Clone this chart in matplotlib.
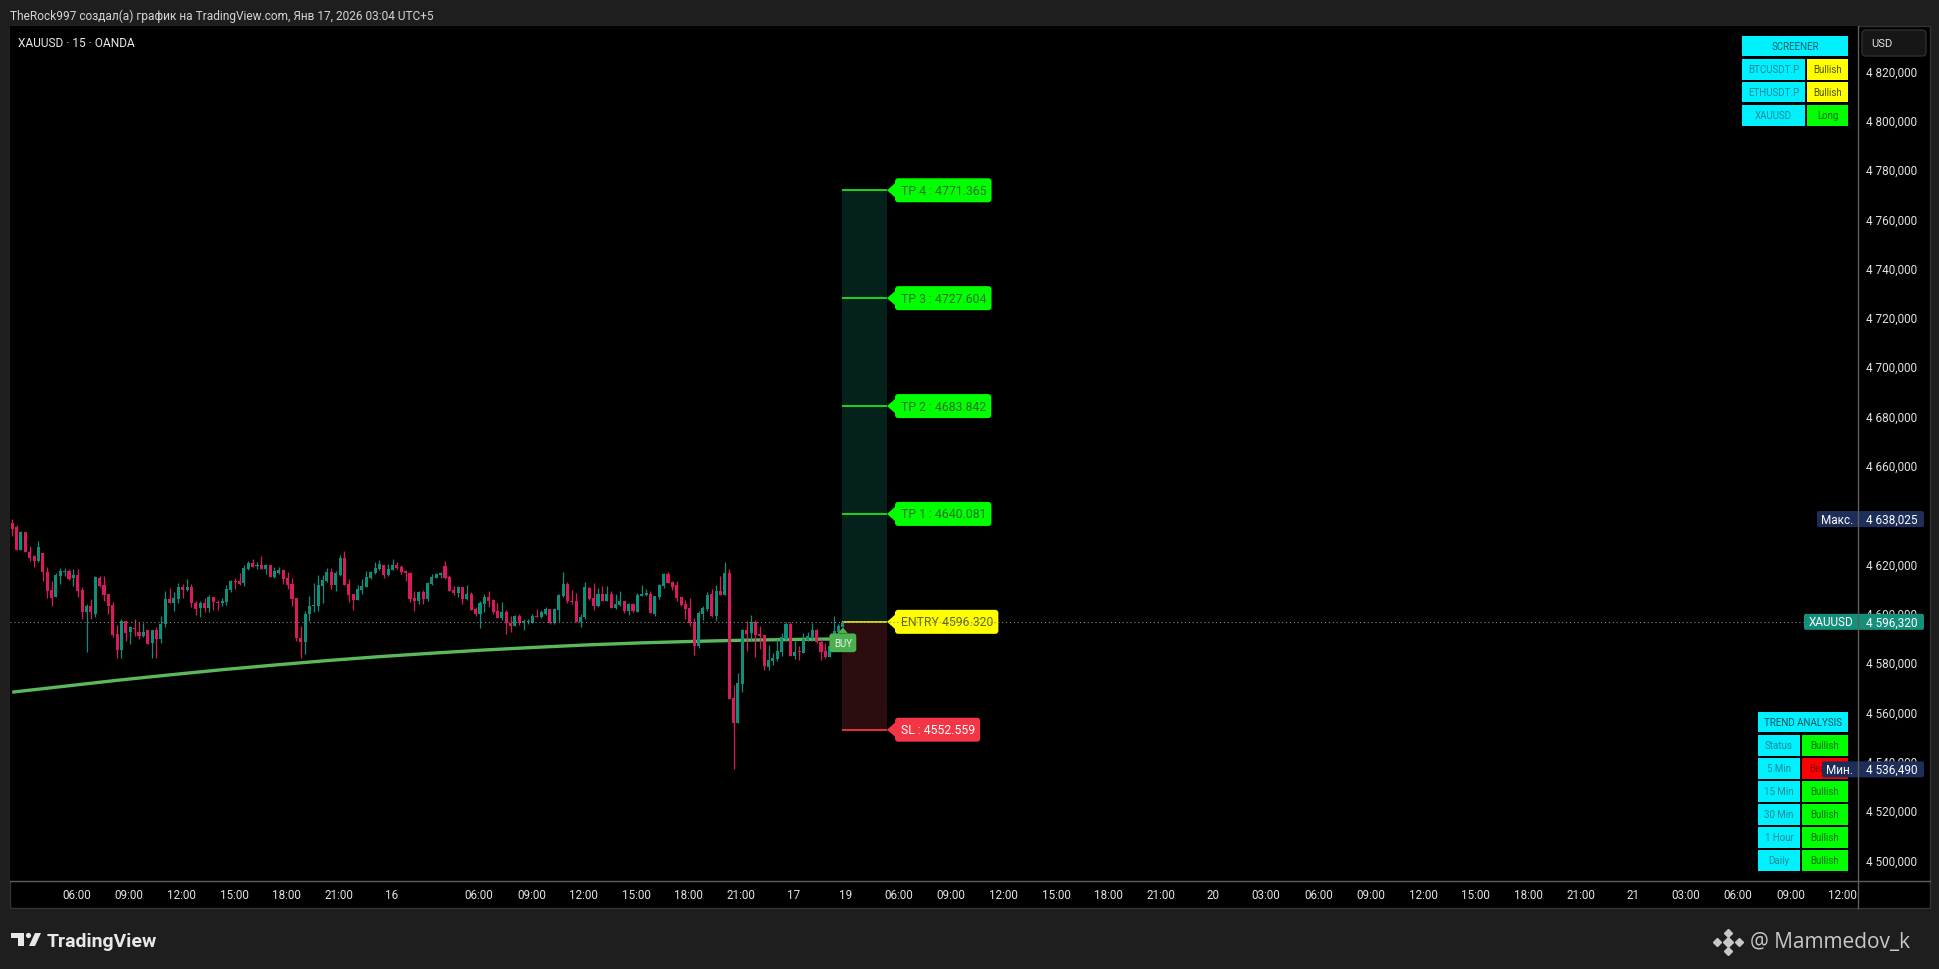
import matplotlib
matplotlib.use("Agg")
import matplotlib.pyplot as plt
from matplotlib.patches import Rectangle, FancyBboxPatch, Polygon, Circle
from matplotlib.lines import Line2D
from matplotlib.transforms import IdentityTransform
from matplotlib.ticker import FuncFormatter

plt.rcParams['font.family'] = ['Roboto', 'DejaVu Sans']

# ---- data (XAUUSD 15m) ----
opens = [
    4636.4, 4634.6, 4625.6, 4632.9, 4624.8, 4622.9, 4621.1, 4624.2, 4616.4, 4609.2,
    4606.5, 4615.0, 4616.4, 4617.1, 4614.1, 4615.4, 4609.2, 4600.4, 4602.9, 4599.5,
    4614.1, 4611.2, 4607.6, 4603.1, 4591.4, 4585.0, 4596.5, 4592.0, 4593.8, 4592.0,
    4590.7, 4593.0, 4587.6, 4593.0, 4589.3, 4595.4, 4605.6, 4603.8, 4605.6, 4610.6,
    4609.2, 4610.6, 4604.0, 4601.9, 4603.8, 4601.9, 4606.2, 4604.5, 4604.0, 4604.2,
    4609.2, 4613.0, 4612.7, 4612.1, 4617.7, 4620.0, 4618.9, 4619.5, 4617.7, 4619.4,
    4614.6, 4616.0, 4617.3, 4614.1, 4611.7, 4606.0, 4589.7, 4588.3, 4599.5, 4602.9,
    4602.9, 4611.0, 4613.0, 4616.6, 4611.2, 4615.4, 4622.2, 4611.7, 4607.6, 4605.2,
    4609.2, 4610.6, 4614.1, 4616.1, 4617.7, 4619.4, 4615.4, 4617.5, 4619.4, 4618.7,
    4617.1, 4616.1, 4606.0, 4604.9, 4608.3, 4605.6, 4611.7, 4614.1, 4615.4, 4618.8,
    4614.4, 4609.2, 4607.9, 4610.3, 4605.6, 4607.6, 4601.5, 4599.5, 4603.5, 4606.2,
    4605.2, 4600.8, 4597.9, 4600.4, 4595.8, 4594.7, 4598.5, 4595.9, 4596.2, 4595.8,
    4598.8, 4598.4, 4599.5, 4601.5, 4595.8, 4601.1, 4606.9, 4611.7, 4604.9, 4604.9,
    4596.1, 4598.1, 4610.0, 4606.0, 4602.9, 4607.6, 4604.9, 4607.6, 4601.9, 4603.3,
    4604.9, 4600.8, 4603.5, 4600.4, 4607.0, 4607.3, 4607.6, 4599.7, 4606.5, 4611.0,
    4615.7, 4612.6, 4611.2, 4606.2, 4603.5, 4601.9, 4596.1, 4586.6, 4599.5, 4601.5,
    4607.6, 4598.7, 4608.7, 4607.3, 4616.1, 4565.4, 4555.3, 4571.1, 4593.0, 4591.6,
    4596.1, 4591.4, 4591.0, 4578.2, 4580.5, 4581.2, 4584.2, 4589.3, 4595.4, 4582.6,
    4584.2, 4583.6, 4589.1, 4590.0, 4593.0, 4588.3, 4584.6, 4581.9, 4586.2, 4592.3,
    4594.3,
]
highs = [
    4638.025, 4635.7, 4633.0, 4632.9, 4626.9, 4623.5, 4629.1, 4624.2, 4618.7, 4613.0,
    4616.1, 4618.1, 4618.1, 4617.6, 4617.7, 4617.6, 4610.3, 4603.5, 4605.6, 4615.0,
    4615.0, 4615.0, 4607.6, 4604.2, 4595.2, 4597.4, 4596.8, 4594.7, 4597.4, 4596.1,
    4595.7, 4593.0, 4593.0, 4594.1, 4598.8, 4608.7, 4610.0, 4608.3, 4611.9, 4611.7,
    4613.7, 4611.7, 4604.6, 4604.6, 4606.0, 4607.3, 4606.5, 4605.2, 4606.0, 4611.2,
    4613.3, 4614.1, 4616.0, 4619.4, 4620.8, 4621.8, 4620.4, 4623.1, 4619.8, 4619.4,
    4618.7, 4618.4, 4617.7, 4616.4, 4614.1, 4606.0, 4594.7, 4600.6, 4606.9, 4612.1,
    4615.4, 4615.4, 4618.0, 4618.0, 4617.1, 4623.4, 4625.2, 4613.7, 4607.6, 4611.4,
    4613.7, 4617.1, 4617.1, 4620.4, 4621.4, 4619.4, 4619.8, 4621.8, 4620.4, 4619.4,
    4617.5, 4616.4, 4608.7, 4608.9, 4609.2, 4612.3, 4615.7, 4616.0, 4616.6, 4621.1,
    4615.3, 4611.0, 4611.0, 4610.3, 4611.4, 4608.3, 4602.2, 4604.9, 4607.6, 4608.7,
    4605.6, 4604.0, 4604.2, 4601.1, 4598.5, 4599.2, 4599.7, 4597.4, 4597.4, 4599.7,
    4601.5, 4601.1, 4602.2, 4601.5, 4601.9, 4607.6, 4616.4, 4612.3, 4609.2, 4608.0,
    4599.5, 4612.3, 4610.3, 4612.1, 4610.0, 4610.8, 4610.8, 4608.9, 4607.6, 4608.7,
    4604.9, 4603.8, 4603.8, 4607.9, 4611.2, 4609.6, 4608.7, 4606.6, 4611.7, 4616.1,
    4616.4, 4613.0, 4613.0, 4606.5, 4605.3, 4605.8, 4597.9, 4600.6, 4602.9, 4608.5,
    4609.5, 4611.4, 4615.0, 4620.4, 4617.7, 4570.7, 4575.5, 4593.4, 4596.8, 4599.1,
    4597.2, 4594.7, 4591.0, 4587.0, 4583.7, 4589.3, 4591.6, 4596.1, 4596.1, 4588.7,
    4586.6, 4591.6, 4592.4, 4595.8, 4593.4, 4589.3, 4587.6, 4587.3, 4598.5, 4595.4,
    4596.5,
]
lows = [
    4631.3, 4625.6, 4625.6, 4624.5, 4621.1, 4618.4, 4620.4, 4612.7, 4606.0, 4602.9,
    4606.5, 4611.7, 4614.8, 4613.3, 4611.0, 4606.5, 4597.4, 4583.9, 4597.4, 4598.1,
    4610.6, 4604.6, 4599.5, 4590.0, 4581.5, 4581.5, 4588.7, 4587.3, 4590.7, 4589.3,
    4590.0, 4587.3, 4581.5, 4581.6, 4587.6, 4594.1, 4604.0, 4600.8, 4603.8, 4606.0,
    4608.9, 4602.2, 4599.2, 4598.1, 4600.2, 4600.2, 4601.1, 4601.1, 4602.9, 4603.3,
    4608.3, 4609.6, 4611.2, 4611.0, 4617.3, 4618.4, 4617.7, 4617.7, 4615.7, 4614.6,
    4614.1, 4615.7, 4611.7, 4609.6, 4602.9, 4588.7, 4581.6, 4583.2, 4596.8, 4600.2,
    4600.6, 4604.0, 4612.3, 4609.6, 4608.9, 4615.0, 4611.4, 4604.5, 4601.1, 4605.2,
    4607.6, 4610.3, 4613.7, 4615.7, 4617.5, 4614.1, 4615.0, 4617.5, 4617.7, 4615.7,
    4613.0, 4604.2, 4600.8, 4603.5, 4603.5, 4604.6, 4611.4, 4614.1, 4614.1, 4613.7,
    4608.7, 4607.3, 4606.5, 4603.5, 4605.3, 4601.1, 4598.8, 4593.8, 4600.2, 4602.2,
    4599.5, 4597.9, 4597.0, 4591.4, 4592.3, 4594.7, 4595.1, 4593.0, 4595.4, 4595.8,
    4598.4, 4597.7, 4599.1, 4595.4, 4595.4, 4596.8, 4606.5, 4604.0, 4603.5, 4596.1,
    4594.3, 4597.4, 4605.2, 4601.1, 4602.5, 4604.9, 4604.6, 4601.9, 4601.5, 4602.9,
    4599.9, 4599.2, 4600.2, 4600.4, 4606.9, 4606.9, 4599.9, 4598.8, 4605.6, 4610.0,
    4612.1, 4609.2, 4604.6, 4602.9, 4597.4, 4594.5, 4583.0, 4585.7, 4597.0, 4600.6,
    4598.4, 4596.5, 4607.3, 4607.3, 4565.0, 4536.49, 4555.3, 4568.0, 4584.6, 4588.4,
    4582.2, 4585.3, 4576.9, 4576.9, 4578.8, 4580.3, 4582.3, 4588.7, 4582.6, 4581.2,
    4581.0, 4583.6, 4588.7, 4588.4, 4587.7, 4581.0, 4581.6, 4581.9, 4586.0, 4591.4,
    4594.1,
]
closes = [
    4634.0, 4625.6, 4632.6, 4624.5, 4622.2, 4621.1, 4626.8, 4616.4, 4608.9, 4606.0,
    4615.4, 4616.9, 4616.9, 4613.7, 4615.3, 4608.9, 4600.4, 4602.9, 4600.2, 4614.4,
    4611.0, 4607.3, 4602.9, 4591.1, 4585.0, 4596.8, 4591.8, 4594.3, 4593.4, 4590.7,
    4592.4, 4587.3, 4593.0, 4589.3, 4595.4, 4605.6, 4604.0, 4606.0, 4610.3, 4609.2,
    4610.6, 4604.0, 4601.5, 4604.0, 4601.9, 4606.2, 4604.2, 4604.0, 4604.9, 4609.6,
    4613.0, 4612.3, 4611.7, 4618.1, 4620.2, 4618.7, 4619.4, 4617.7, 4619.4, 4614.6,
    4617.1, 4617.3, 4613.7, 4611.4, 4605.6, 4589.7, 4588.3, 4599.7, 4602.6, 4603.1,
    4611.4, 4613.3, 4616.4, 4611.2, 4616.0, 4622.2, 4611.4, 4607.3, 4605.2, 4609.6,
    4611.0, 4614.6, 4616.6, 4618.1, 4619.8, 4615.4, 4617.7, 4619.4, 4618.1, 4616.6,
    4616.0, 4605.6, 4604.9, 4608.3, 4605.6, 4612.1, 4614.6, 4615.7, 4616.0, 4614.1,
    4608.9, 4607.9, 4610.3, 4605.6, 4607.6, 4601.1, 4599.5, 4603.8, 4606.5, 4604.9,
    4600.2, 4597.9, 4600.2, 4595.7, 4594.7, 4598.5, 4595.7, 4596.5, 4596.8, 4598.5,
    4598.4, 4600.4, 4601.5, 4595.8, 4601.5, 4607.2, 4611.7, 4604.6, 4604.2, 4596.1,
    4598.1, 4610.3, 4605.6, 4602.9, 4607.6, 4604.9, 4607.6, 4601.9, 4603.5, 4604.9,
    4600.8, 4603.5, 4600.6, 4607.3, 4607.6, 4607.9, 4599.9, 4606.6, 4611.2, 4615.7,
    4612.1, 4610.6, 4606.0, 4603.3, 4601.5, 4595.8, 4586.6, 4599.9, 4601.9, 4607.3,
    4598.7, 4608.7, 4607.3, 4616.1, 4565.0, 4555.3, 4571.5, 4593.0, 4591.4, 4596.1,
    4591.0, 4590.7, 4578.5, 4580.8, 4581.6, 4584.6, 4590.0, 4595.4, 4582.6, 4584.2,
    4583.9, 4589.3, 4590.7, 4593.0, 4588.0, 4584.2, 4581.9, 4586.6, 4592.7, 4594.7,
    4596.32,
]

# slow moving average (green line), read every 12 bars
ema_bars = [0, 12, 24, 36, 48, 60, 72, 84, 96, 108, 120, 132, 144, 156, 168, 180, 190]
ema_vals = [4567.8, 4570.2, 4572.6, 4574.8, 4576.9, 4578.8, 4580.6, 4582.2, 4583.6,
            4584.9, 4586.0, 4587.0, 4587.8, 4588.4, 4588.9, 4589.2, 4589.4]

tp_levels = [4640.081, 4683.842, 4727.604, 4771.365]
entry = 4596.320
sl = 4552.559

price_ticks = list(range(4500, 4821, 20))
time_labels = ["06:00", "09:00", "12:00", "15:00", "18:00", "21:00", "16",
               "06:00", "09:00", "12:00", "15:00", "18:00", "21:00", "17", "19",
               "06:00", "09:00", "12:00", "15:00", "18:00", "21:00", "20",
               "03:00", "06:00", "09:00", "12:00", "15:00", "18:00", "21:00", "21",
               "03:00", "06:00", "09:00", "12:00"]

screener_syms = ["BTCUSDT.P", "ETHUSDT.P", "XAUUSD"]
screener_vals = ["Bullish", "Bullish", "Long"]
trend_tf = ["Status", "5 Min", "15 Min", "30 Min", "1 Hour", "Daily"]
trend_vals = ["Bullish", "Bearish", "Bullish", "Bullish", "Bullish", "Bullish"]

# ---- styling ----
W, H = 1940, 970
UP, DN = "#0f8f7a", "#d81b5c"
TXT = "#e3e3e3"
px = IdentityTransform()

fig = plt.figure(figsize=(W / 100, H / 100), dpi=100)
fig.patch.set_facecolor("#1e1e1e")


def prect(x0, y0, x1, y1, fc, z=4, ec="none", lw=0, rnd=0):
    # rectangle in screenshot pixels (y measured from the top)
    if rnd:
        p = FancyBboxPatch((x0, H - y1), x1 - x0, y1 - y0,
                           boxstyle=f"round,pad=0,rounding_size={rnd}",
                           fc=fc, ec=ec, lw=lw, transform=px, zorder=z)
    else:
        p = Rectangle((x0, H - y1), x1 - x0, y1 - y0, fc=fc, ec=ec, lw=lw,
                      transform=px, zorder=z)
    fig.add_artist(p)


def ptext(x, y, s, z=5, **kw):
    fig.text(x, H - y, s, transform=px, zorder=z, **kw)


# chart frame
prect(10, 27, 1930, 909, "black", z=-1, ec="#333333", lw=1)

ax = fig.add_axes([10 / W, (H - 882) / H, 1848 / W, 855 / H])
ax.set_facecolor("black")
for s in ax.spines.values():
    s.set_visible(False)
ax.set_xlim(-0.5, 422.2)
ax.set_ylim(4491.2, 4838.0)

ax.yaxis.tick_right()
ax.set_yticks(price_ticks)
ax.yaxis.set_major_formatter(FuncFormatter(lambda v, _: f"{int(v) // 1000} {int(v) % 1000:03d},000"))
ax.tick_params(axis="y", length=0, pad=5.8, labelsize=8.5, labelcolor=TXT)

tick_pos = [14.75 + 12 * k for k in range(7)] + [106.75 + 12 * k for k in range(27)]
ax.set_xticks(tick_pos)
ax.set_xticklabels(time_labels)
ax.tick_params(axis="x", length=0, pad=5, labelsize=8.4, labelcolor=TXT)

# candles
idx = list(range(len(closes)))
cols = [UP if c >= o else DN for o, c in zip(opens, closes)]
ax.vlines(idx, lows, highs, colors=cols, lw=0.9, zorder=3)
ax.bar(idx, [max(abs(c - o), 0.4) for o, c in zip(opens, closes)],
       bottom=[min(o, c) for o, c in zip(opens, closes)],
       width=0.7, color=cols, lw=0, zorder=3)

ax.plot(ema_bars, ema_vals, color="#5cb85c", lw=2.4, zorder=2, solid_capstyle="butt")

# entry / targets box
last = len(closes) - 1
z0, z1 = last - 0.25, last + 10.1
ax.add_patch(Rectangle((z0, entry), z1 - z0, tp_levels[-1] - entry, fc="#04211b", ec="none", zorder=1))
ax.add_patch(Rectangle((z0, sl), z1 - z0, entry - sl, fc="#2b0d10", ec="none", zorder=1))
ax.hlines(tp_levels, z0, z1, colors="#19e619", lw=1.3, zorder=2)
ax.hlines([entry], z0, z1, colors="#e6e600", lw=1.3, zorder=2)
ax.hlines([sl], z0, z1, colors="#f23645", lw=1.3, zorder=2)


def level_label(level, text, fc, tc):
    tx, ty = ax.transData.transform((z1, level))
    fig.add_artist(Polygon([(tx, ty), (tx + 8, ty + 7), (tx + 8, ty - 7)],
                           closed=True, fc=fc, ec="none", transform=px, zorder=4))
    fig.text(tx + 13.5, ty, text, transform=px, ha="left", va="center",
             fontsize=8.8, color=tc, zorder=5,
             bbox=dict(boxstyle="round,pad=0.45,rounding_size=0.25", fc=fc, ec="none"))


for k, lv in enumerate(tp_levels, start=1):
    level_label(lv, f"TP {k} : {lv:.3f}", "#00ff00", "#2a6e2a")
level_label(entry, f"ENTRY {entry:.3f}", "#ffff00", "#66662a")
level_label(sl, f"SL : {sl:.3f}", "#f23645", "#ffffff")

# BUY marker under the last bar
bx, by = ax.transData.transform((last, lows[-1]))
fig.add_artist(Polygon([(bx, by), (bx - 5, by - 6), (bx + 5, by - 6)], closed=True,
                       fc="#4caf50", ec="none", transform=px, zorder=4))
fig.text(bx, by - 15.5, "BUY", transform=px, ha="center", va="center", fontsize=7,
         color="#eaf5ea", zorder=5,
         bbox=dict(boxstyle="round,pad=0.45,rounding_size=0.3", fc="#4caf50", ec="none"))

# current price dotted line
_, cy = ax.transData.transform((0, closes[-1]))
fig.add_artist(Line2D([10, 1858], [cy, cy], transform=px, color="#7d8c8c", lw=0.8,
                      ls=(0, (1, 2.5)), zorder=6))


def fmt_val(v):
    n = int(v)
    return f"{n // 1000} {n % 1000:03d},{int(round((v - n) * 1000)):03d}"


def axis_tag(price, name, fc, x_left):
    _, y = ax.transData.transform((0, price))
    fig.add_artist(FancyBboxPatch((x_left, y - 8), 1924 - x_left, 16,
                                  boxstyle="round,pad=0,rounding_size=2", fc=fc,
                                  ec="none", transform=px, zorder=7))
    fig.text(1853, y, name, transform=px, ha="right", va="center", fontsize=8.5,
             color="white", zorder=8)
    fig.text(1866, y, fmt_val(price), transform=px, ha="left", va="center",
             fontsize=8.5, color="white", zorder=8)


axis_tag(max(highs), "Макс.", "#1e2e5a", 1817)
axis_tag(closes[-1], "XAUUSD", "#148f7b", 1804)
axis_tag(min(lows), "Мин.", "#1e2e5a", 1822)

# frame separators
fig.add_artist(Line2D([10, 1930], [H - 882, H - 882], transform=px, color="#5e5e5e", lw=1, zorder=9))
fig.add_artist(Line2D([1858, 1858], [H - 27, H - 909], transform=px, color="#5e5e5e", lw=1, zorder=9))

# USD box
prect(1862, 31, 1926, 57, "#161616", z=4, ec="#2e2e2e", lw=1, rnd=4)
ptext(1871, 44, "USD", ha="left", va="center", fontsize=8, color=TXT)

# screener table
CY = "#00f0ff"
CYT = "#1a8896"
prect(1742, 37, 1848, 57, CY)
ptext(1795, 47, "SCREENER", ha="center", va="center", fontsize=7, color="#135f68")
row_y = [(60, 81), (83, 103), (106, 127)]
for (y0, y1), sym, val in zip(row_y, screener_syms, screener_vals):
    prect(1742, y0, 1805, y1, CY)
    ptext(1773.5, (y0 + y1) / 2, sym, ha="center", va="center", fontsize=7, color=CYT)
    vc, vt = ("#ffff00", "#4f4f1a") if val == "Bullish" else ("#00ff00", "#0a6b0a")
    prect(1807, y0, 1848, y1, vc)
    ptext(1827.5, (y0 + y1) / 2, val, ha="center", va="center", fontsize=7, color=vt)

# trend analysis table
prect(1758, 713, 1848, 733, CY)
ptext(1803, 723, "TREND ANALYSIS", ha="center", va="center", fontsize=7, color="#104f58")
for k, (tf, val) in enumerate(zip(trend_tf, trend_vals)):
    y0 = 736 + k * 23
    y1 = y0 + 20.5
    prect(1758, y0, 1800, y1, CY)
    ptext(1779, (y0 + y1) / 2, tf, ha="center", va="center", fontsize=7, color=CYT)
    vc, vt = ("#00ff00", "#0b6b0b") if val == "Bullish" else ("#ff0000", "#8a0000")
    prect(1802, y0, 1848, y1, vc)
    ptext(1825, (y0 + y1) / 2, val, ha="center", va="center", fontsize=7, color=vt)

# header texts
ptext(10, 20, "TheRock997 создал(а) график на TradingView.com, Янв 17, 2026 03:04 UTC+5",
      ha="left", va="baseline", fontsize=8.6, color="#d1d4dc")
ptext(18, 46.7, "XAUUSD · 15 · OANDA", ha="left", va="baseline", fontsize=8.6, color="#e8e8e8")

# TradingView logo + name
LOGO = "#e8e8e8"
fig.add_artist(Polygon([(11, H - 934), (24, H - 934), (24, H - 947), (18, H - 947),
                        (18, H - 939), (11, H - 939)], closed=True, fc=LOGO, ec="none",
                       transform=px, zorder=5))
fig.add_artist(Circle((28.5, H - 936.5), 2.6, fc=LOGO, ec="none", transform=px, zorder=5))
fig.add_artist(Polygon([(29, H - 947), (35, H - 934), (41, H - 934), (35, H - 947)],
                       closed=True, fc=LOGO, ec="none", transform=px, zorder=5))
ptext(47, 947, "TradingView", ha="left", va="baseline", fontsize=14, fontweight="bold", color=LOGO)

# watermark
WM = "#c8c8c8"
for dx, dy, s in [(-11, 0, 3.8), (11, 0, 3.8), (0, -9, 4.4), (0, 9, 4.4), (0, 0, 5.2)]:
    fig.add_artist(Line2D([1728 + dx], [H - 943 + dy], transform=px, marker="D",
                          markersize=s, color=WM, zorder=5, ls="none"))
ptext(1750, 943, "@ Mammedov_k", ha="left", va="center", fontsize=15,
      color=WM, family=["Open Sans", "DejaVu Sans"])

fig.savefig("out.png", dpi=100, facecolor=fig.get_facecolor())
